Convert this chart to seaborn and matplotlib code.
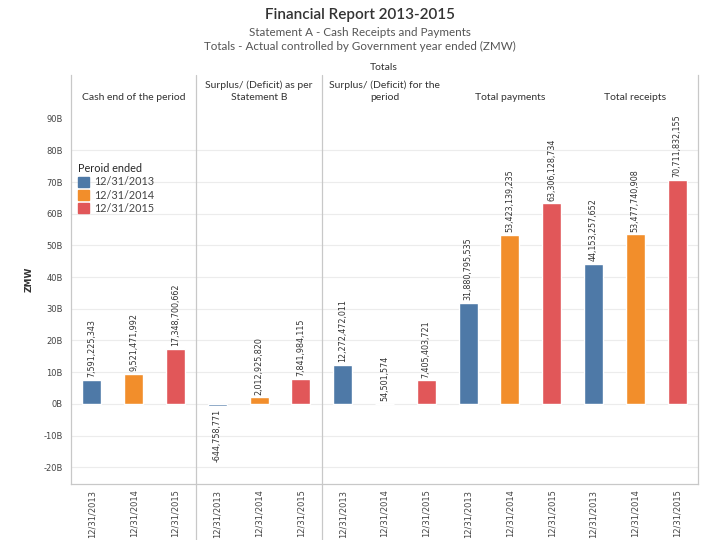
import numpy as np
import pandas as pd
import matplotlib
matplotlib.use("Agg")
import matplotlib.pyplot as plt
import matplotlib.transforms as mtransforms
from matplotlib.patches import Patch
import seaborn as sns

# data (ZMW)
sections = ["Cash end of the period",
            "Surplus/ (Deficit) as per\nStatement B",
            "Surplus/ (Deficit) for the\nperiod",
            "Total payments",
            "Total receipts"]
periods = ["12/31/2013", "12/31/2014", "12/31/2015"]
cash_end = [7591225343, 9521471992, 17348700662]
surplus_b = [-644758771, 2012925820, 7841984115]
surplus_period = [12272472011, 54501574, 7405403721]
total_payments = [31880795535, 53423139235, 63306128734]
total_receipts = [44153257652, 53477740908, 70711832155]
colors = ["#4e79a7", "#f28e2b", "#e15759"]

rows = []
for sec, vals in zip(sections, [cash_end, surplus_b, surplus_period,
                                total_payments, total_receipts]):
    for per, v in zip(periods, vals):
        rows.append({"section": sec, "period": per, "value": v,
                     "slot": sec + "|" + per})
df = pd.DataFrame(rows)
df["bn"] = df["value"] / 1e9

sns.set_theme(style="white")
plt.rcParams["font.family"] = ["DejaVu Sans"]

fig = plt.figure(figsize=(7.2, 5.4), dpi=100)
ax = fig.add_axes([71 / 720, 1 - 484 / 540, 627 / 720, 409 / 540])

sns.barplot(data=df, x="slot", y="bn", hue="period", palette=colors,
            saturation=1, dodge=False, width=0.45, legend=False, ax=ax)

ax.set_xlim(-0.5, len(df) - 0.5)
ax.set_ylim(-25.3, 103.8)
ax.set_yticks(np.arange(-20, 100, 10))
ax.set_yticklabels([f"{int(v)}B" for v in np.arange(-20, 100, 10)],
                   fontsize=6, color="#444")
ax.set_xticks(range(len(df)))
ax.set_xticklabels(df["period"], rotation=90, fontsize=6, color="#444")
ax.tick_params(axis="y", length=0, pad=6)
ax.tick_params(axis="x", length=0, pad=4)
ax.set_xlabel("")
ax.set_ylabel("ZMW", fontsize=6.5, fontweight="bold", color="#333", labelpad=7)

for g in np.arange(-20, 90, 10):
    ax.axhline(g, color="#ececec", lw=0.8, zorder=0)

for s in ["left", "right", "bottom"]:
    ax.spines[s].set_color("#c8c8c8")
    ax.spines[s].set_linewidth(0.9)
ax.spines["top"].set_visible(False)

trans = mtransforms.blended_transform_factory(ax.transData, ax.transAxes)
for xd in [2.5, 5.5]:
    ax.plot([xd, xd], [-0.14, 1.0], transform=trans, color="#c8c8c8",
            lw=0.9, clip_on=False)

# section headers
for i, sec in enumerate(sections):
    ax.text(3 * i + 1, 0.934, sec, transform=trans, ha="center", va="bottom",
            fontsize=7.5, color="#333", linespacing=1.45, family="Lato")
fig.text(384 / 720, 1 - 68 / 540, "Totals", ha="center", va="center",
         fontsize=7.5, color="#333", family="Lato")

# value labels
for i, row in df.iterrows():
    v = row["bn"]
    label = f"{row['value']:,}"
    if v >= 0:
        ax.text(i, v + 0.8, label, rotation=90, ha="center", va="bottom",
                fontsize=5.8, color="#333")
    else:
        ax.text(i, v - 0.8, label, rotation=90, ha="center", va="top",
                fontsize=5.8, color="#333")

handles = [Patch(color=c, label=p) for c, p in zip(colors, periods)]
leg = ax.legend(handles=handles, title="Peroid ended", loc="upper left",
                bbox_to_anchor=(0.0, 0.8), frameon=False,
                handlelength=1.1, handleheight=1.1,
                handletextpad=0.4, labelspacing=0.2, borderaxespad=0.2,
                prop={"family": "Lato", "size": 7.8})
leg.get_title().set_family("Lato")
leg.get_title().set_fontsize(7.8)
leg._legend_box.align = "left"
for t in leg.get_texts():
    t.set_color("#444")

fig.text(0.5, 1 - 15 / 540, "Financial Report 2013-2015", ha="center",
         va="center", fontsize=11, color="#333", family="Lato",
         fontweight="semibold")
fig.text(0.5, 1 - 32 / 540, "Statement A - Cash Receipts and Payments",
         ha="center", va="center", fontsize=8.4, color="#555", family="Lato")
fig.text(0.5, 1 - 46 / 540,
         "Totals - Actual controlled by Government year ended (ZMW)",
         ha="center", va="center", fontsize=8.4, color="#555", family="Lato")

fig.savefig("out.png", dpi=100)
